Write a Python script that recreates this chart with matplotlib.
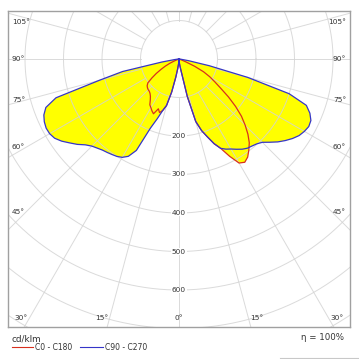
import numpy as np
import matplotlib.pyplot as plt
from matplotlib.lines import Line2D

# gamma angles (deg from nadir) and intensities in cd/klm
gamma = [0, 2.5, 5, 7.5, 10, 12.5, 15, 17.5, 20, 22.5, 25, 27.5, 30, 32.5, 35,
         37.5, 40, 42.5, 45, 47.5, 50, 52.5, 55, 57.5, 60, 62.5, 65, 67.5, 70,
         72.5, 75, 77.5, 80, 82.5, 85, 87.5, 90]
c0 = [0, 4, 10, 18, 32, 100, 168, 195, 215, 238, 256, 285, 312, 318, 311,
      298, 284, 265, 243, 220, 192, 162, 132, 110, 92, 72, 45, 18, 5,
      0, 0, 0, 0, 0, 0, 0, 0]
c180 = [0, 4, 12, 25, 48, 88, 125, 140, 148, 140, 157, 152, 146, 141, 130,
        122, 117, 114, 113, 111, 108, 102, 86, 70, 54, 40, 26, 12, 4,
        0, 0, 0, 0, 0, 0, 0, 0]
c90 = [0, 4, 10, 18, 32, 100, 168, 195, 215, 238, 256, 264, 270, 278, 286,
       292, 295, 299, 306, 320, 335, 348, 360, 370, 376, 380, 378, 368, 352,
       300, 185, 80, 25, 5, 0, 0, 0]
c270 = [0, 4, 12, 25, 48, 88, 125, 140, 165, 195, 262, 285, 295, 300, 303,
        306, 309, 314, 320, 330, 345, 358, 372, 383, 388, 389, 386, 380, 368,
        335, 215, 150, 45, 12, 3, 0, 0]

rings = [100, 200, 300, 400, 500, 600, 700, 800]
ring_labels = [200, 300, 400, 500, 600]
angle_labels = [0, 15, 30, 45, 60, 75, 90, 105]
eta = "100%"

RED = '#d8301e'
BLUE = '#3535c8'
GRID = '#d4d4d4'
TXT = '#333333'

W = H = 359
px = 0.385          # pixels per cd/klm
cx, cy = 179, 59    # pole position in pixels
bl, br, bt, bb = 8, 350, 11, 327
x0, x1 = (bl - cx) / px, (br - cx) / px
y1, y0 = (cy - bt) / px, -(bb - cy) / px

fig = plt.figure(figsize=(W / 100, H / 100), dpi=100)
ax = fig.add_axes([bl / W, 1 - bb / H, (br - bl) / W, (bb - bt) / H])
ax.set_xlim(x0, x1)
ax.set_ylim(y0, y1)
ax.set_xticks([])
ax.set_yticks([])
for s in ax.spines.values():
    s.set_color('#a0a0a0')
    s.set_linewidth(1.0)


def to_xy(g, r, side):
    g = np.radians(np.asarray(g, float))
    r = np.asarray(r, float)
    return side * r * np.sin(g), -r * np.cos(g)


xr, yr = to_xy(gamma, c0, 1)
xl, yl = to_xy(gamma, c180, -1)
red_x = np.r_[xr, xl[::-1]]
red_y = np.r_[yr, yl[::-1]]
xr, yr = to_xy(gamma, c90, 1)
xl, yl = to_xy(gamma, c270, -1)
blue_x = np.r_[xr, xl[::-1]]
blue_y = np.r_[yr, yl[::-1]]

ax.fill(blue_x, blue_y, color='#ffff00', lw=0, zorder=1)
ax.fill(red_x, red_y, color='#ffff00', lw=0, zorder=1)

# grid
t = np.linspace(0, 2 * np.pi, 400)
for r in rings:
    ax.plot(r * np.cos(t), r * np.sin(t), color=GRID, lw=0.7, alpha=0.85, zorder=2)
for a in range(0, 360, 15):
    sx, sy = to_xy([a, a], [100, 1500], 1)
    ax.plot(sx, sy, color=GRID, lw=0.7, alpha=0.85, zorder=2)

ax.plot(red_x, red_y, color=RED, lw=0.9, zorder=3)
ax.plot(blue_x, blue_y, color=BLUE, lw=0.9, zorder=4)

for r in ring_labels:
    ax.text(0, -r, str(r), ha='center', va='center', fontsize=5.3, color=TXT,
            zorder=5, bbox=dict(facecolor='white', edgecolor='none', pad=0.3))

# angle labels
ybot = y0 + 9 / px
xin = x1 - 18 / px
for a in angle_labels:
    xb = -ybot * np.tan(np.radians(a)) if a < 90 else np.inf
    if xb < x1 - 8 / px:
        shift = 8 / px if a else 0
        sides = (1,) if a == 0 else (1, -1)
        for side in sides:
            ax.text(side * (xb + shift), ybot, f'{a}°', ha='center', va='center',
                    fontsize=5.3, color=TXT, zorder=5)
    else:
        y = -xin / np.tan(np.radians(a)) if a != 90 else 0
        y = min(y, y1 - 11 / px)
        ax.text(x0 + 4 / px, y, f'{a}°', ha='left', va='center',
                fontsize=5.3, color=TXT, zorder=5)
        ax.text(x1 - 4 / px, y, f'{a}°', ha='right', va='center',
                fontsize=5.3, color=TXT, zorder=5)

# footer
fig.text(12 / W, 1 - 339 / H, 'cd/klm', fontsize=6.4, color=TXT, va='center')
fig.add_artist(Line2D([12 / W, 33 / W], [1 - 347 / H] * 2, color=RED, lw=0.8))
fig.text(35 / W, 1 - 347 / H, 'C0 - C180', fontsize=5.5, color=TXT, va='center')
fig.add_artist(Line2D([80 / W, 103 / W], [1 - 347 / H] * 2, color=BLUE, lw=0.8))
fig.text(105 / W, 1 - 347 / H, 'C90 - C270', fontsize=5.5, color=TXT, va='center')
fig.text(344 / W, 1 - 338 / H, f'η = {eta}', fontsize=6.2, color=TXT,
         ha='right', va='center')
fig.add_artist(Line2D([280 / W, 1], [1 - 358 / H] * 2, color='#c8c8c8', lw=0.8))

fig.savefig('out.png', dpi=100)
